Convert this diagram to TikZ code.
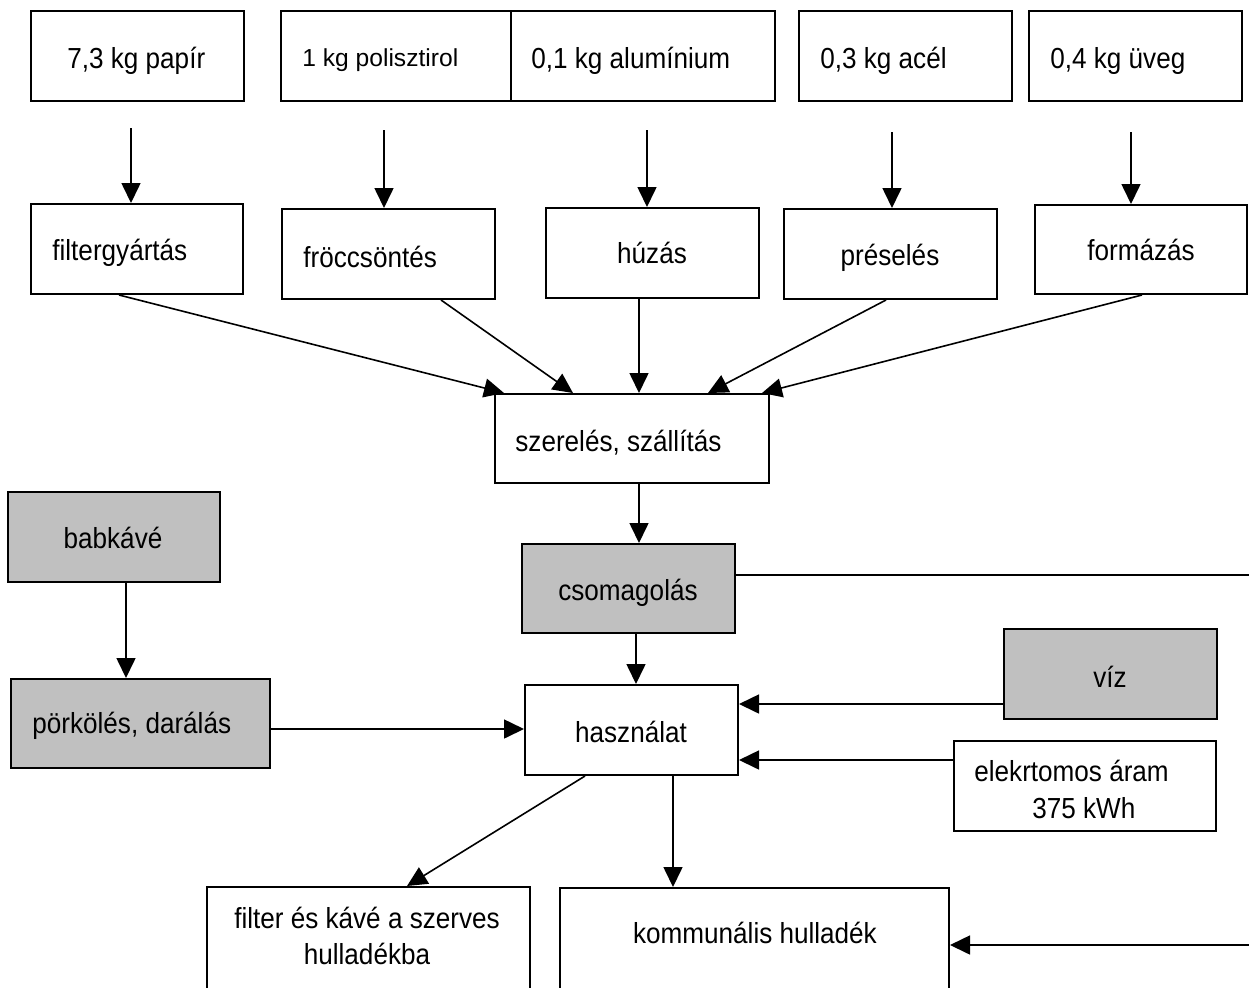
\documentclass[tikz,border=0pt]{standalone}
\usepackage{fontspec}
\setmainfont{Liberation Sans}[FakeStretch=0.9]
\newfontfamily\polifont{Liberation Sans}
\usetikzlibrary{arrows.meta,fit,calc}
\definecolor{boxgray}{HTML}{C0C0C0}
\tikzset{
  box/.style={draw=black, line width=1pt, inner sep=0pt, rectangle},
  graybox/.style={box, fill=boxgray},
  txt/.style={inner sep=0pt, font=\fontsize{14.5}{17}\selectfont},
  arr/.style={draw=black, line width=0.8pt, -{Triangle[length=10pt,width=9.5pt]}},
  plain/.style={draw=black, line width=0.8pt}
}
\begin{document}
\begin{tikzpicture}[x=0.5pt,y=-0.5pt]
\useasboundingbox (0,0) rectangle (1249,987);
\clip (0,0) rectangle (1249,987);
% top row
\node[box, fit={(31,11) (244,101)}] (papir) {};
\node[box, fit={(281,11) (511,101)}] (poli) {};
\node[box, fit={(511,11) (775,101)}] (alu) {};
\node[box, fit={(799,11) (1012,101)}] (acel) {};
\node[box, fit={(1029,11) (1242,101)}] (uveg) {};
\node[txt, anchor=base west] (papirT) at (67,68) {7,3 kg papír};
\node[txt, anchor=base west, font=\polifont\fontsize{12.3}{15}\selectfont] (poliT) at (302,66) {1 kg polisztirol};
\node[txt, anchor=base west] (aluT) at (531,68) {0,1 kg alumínium};
\node[txt, anchor=base west] (acelT) at (820,68) {0,3 kg acél};
\node[txt, anchor=base west] (uvegT) at (1050,68) {0,4 kg üveg};
% second row
\node[box, fit={(31,204) (243,294)}] (filt) {};
\node[box, fit={(282,209) (495,299)}] (froc) {};
\node[box, fit={(546,208) (759,298)}] (huz) {};
\node[box, fit={(784,209) (997,299)}] (pres) {};
\node[box, fit={(1035,205) (1247,294)}] (form) {};
\node[txt, anchor=base west] (filtT) at (52,260) {filtergyártás};
\node[txt, anchor=base west] (frocT) at (303,267) {fröccsöntés};
\node[txt, anchor=base] (huzT) at (652,263) {húzás};
\node[txt, anchor=base] (presT) at (890,265) {préselés};
\node[txt, anchor=base] (formT) at (1141,260) {formázás};
% free arrow starts
\coordinate (s1) at (131,128);
\coordinate (s2) at (384,130);
\coordinate (s3) at (647,130);
\coordinate (s4) at (892,132);
\coordinate (s5) at (1131,132);
\draw[arr] (s1) -- (s1 |- filt.north);
\draw[arr] (s2) -- (s2 |- froc.north);
\draw[arr] (s3) -- (s3 |- huz.north);
\draw[arr] (s4) -- (s4 |- pres.north);
\draw[arr] (s5) -- (s5 |- form.north);
% szereles
\node[box, fit={(495,394) (769,483)}] (szer) {};
\node[txt, anchor=base west] (szerT) at (515,451) {szerelés, szállítás};
\draw[arr] ($(filt.south west)+(89,0)$) -- ($(szer.north west)+(10,0)$);
\draw[arr] ($(froc.south west)+(160,0)$) -- ($(szer.north west)+(79,0)$);
\draw[arr] ($(huz.south west)+(94,0)$) -- ($(szer.north west)+(145,0)$);
\draw[arr] ($(pres.south west)+(103,0)$) -- ($(szer.north west)+(214,0)$);
\draw[arr] ($(form.south west)+(108,0)$) -- ($(szer.north west)+(268,0)$);
% csomagolas
\node[graybox, fit={(522,544) (735,633)}] (csom) {};
\node[txt, anchor=base] (csomT) at (628,600) {csomagolás};
\draw[arr] ($(szer.south west)+(145,0)$) coordinate (c1) -- (c1 |- csom.north);
\coordinate (re1) at (1249,575);
\draw[plain] (csom.east |- re1) -- (re1);
% babkave / porkoles
\node[graybox, fit={(8,492) (220,582)}] (bab) {};
\node[txt, anchor=base] (babT) at (113,548) {babkávé};
\node[graybox, fit={(11,679) (270,768)}] (pork) {};
\node[txt, anchor=base west] (porkT) at (32,733) {pörkölés, darálás};
\draw[arr] ($(bab.south west)+(119,0)$) coordinate (b1) -- (b1 |- pork.north);
% hasznalat
\node[box, fit={(525,685) (738,775)}] (hasz) {};
\node[txt, anchor=base] (haszT) at (631,742) {használat};
\draw[arr] ($(csom.south west)+(115,0)$) coordinate (h1) -- (h1 |- hasz.north);
\coordinate (py) at (0,729);
\draw[arr] (pork.east |- py) -- (hasz.west |- py);
% viz, elektromos
\node[graybox, fit={(1004,629) (1217,719)}] (viz) {};
\node[txt, anchor=base] (vizT) at (1110,687) {víz};
\coordinate (vy) at (0,704);
\draw[arr] (viz.west |- vy) -- (hasz.east |- vy);
\node[box, fit={(954,741) (1216,831)}] (elek) {};
\node[txt, anchor=base west] (elekT1) at (974,781) {elekrtomos áram};
\node[txt, anchor=base west] (elekT2) at (1032,818) {375 kWh};
\coordinate (ey) at (0,760);
\draw[arr] (elek.west |- ey) -- (hasz.east |- ey);
% bottom boxes
\node[box, fit={(207,887) (530,1010)}] (filter) {};
\node[txt, anchor=base] (filterT1) at (367,928) {filter és kávé a szerves};
\node[txt, anchor=base] (filterT2) at (367,964) {hulladékba};
\node[box, fit={(560,888) (949,1010)}] (komm) {};
\node[txt, anchor=base] (kommT) at (755,943) {kommunális hulladék};
\draw[arr] ($(hasz.south west)+(61,0)$) -- ($(filter.north west)+(201,0)$);
\draw[arr] ($(hasz.south west)+(149,0)$) coordinate (k1) -- (k1 |- komm.north);
\coordinate (re2) at (1249,945);
\draw[arr] (re2) -- (komm.east |- re2);
\end{tikzpicture}
\end{document}
